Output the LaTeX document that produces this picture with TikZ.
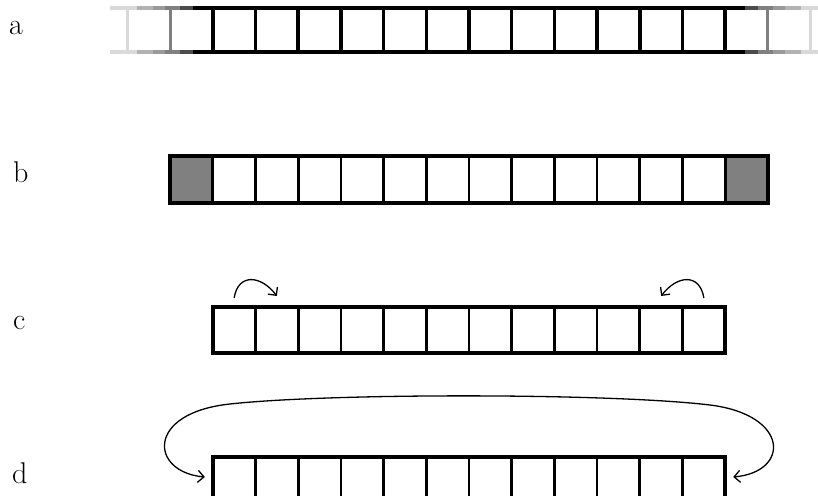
\documentclass[tikz,border=0pt]{standalone}
\usepackage{fontspec}
\usepackage{tikz}
\usetikzlibrary{arrows.meta}

\tikzset{
  cell/.style={draw, minimum width=42.7pt, minimum height=46pt, inner sep=0pt, outer sep=0pt, line width=2.7pt},
  ghost/.style={minimum width=42.7pt, minimum height=44pt, inner sep=0pt, outer sep=0pt},
  rowlabel/.style={anchor=base west, inner sep=0pt, font=\fontsize{30}{30}\selectfont},
  link/.style={line width=1.3pt, -{Straight Barb[length=6pt, width=12pt]}},
}

\begin{document}
\begin{tikzpicture}[x=1pt, y=1pt]
    \useasboundingbox (0,0) rectangle (818,495);
    \clip (0,0) rectangle (818,495);
    % row labels
    \node[rowlabel] (la) at (9,460) {a};
    \node[rowlabel] (lb) at (13,312) {b};
    \node[rowlabel] (lc) at (13,165) {c};
    \node[rowlabel] (ld) at (12,12) {d};
    % row a: the lattice fading out at both ends
    \foreach \i in {1,...,12}
        \node[cell, minimum height=44pt, line width=3.5pt] (a\i) at ({469+(\i-6.5)*42.7},465) {};
    \node[ghost] (a0) at ({469-6.5*42.7},465) {};
    \node[ghost] (a13) at ({469+6.5*42.7},465) {};
    \node[ghost] (al) at ({469-7.5*42.7},465) {};
    \node[ghost] (ar) at ({469+7.5*42.7},465) {};
    \draw[line width=4.5pt] (193,487) -- (745,487) (193,443) -- (745,443);
    \foreach \xa/\xb/\s in {110/137/15, 137/153/30, 153/165/40, 165/180/50, 180/193/70} {
        \draw[black!\s, line width=3.5pt] (\xa,487) -- (\xb,487) (\xa,443) -- (\xb,443);
        \draw[black!\s, line width=3.5pt] (938-\xa,487) -- (938-\xb,487) (938-\xa,443) -- (938-\xb,443);
    }
    \draw[black!50, line width=3pt] (a0.north west) -- (a0.south west) (a13.north east) -- (a13.south east);
    \draw[black!15, line width=2.5pt] (al.north west) -- (al.south west) (ar.north east) -- (ar.south east);
    % row b: fixed ends
    \foreach \i in {1,...,14}
        \node[cell, minimum height=47pt] (b\i) at ({469+(\i-7.5)*42.7},315.5) {};
    \fill[black!50] (b1.north west) rectangle (b1.south east);
    \fill[black!50] (b14.north west) rectangle (b14.south east);
    \foreach \i in {2,13}
        \draw[line width=2.7pt] (b\i.north west) -- (b\i.south west) (b\i.north east) -- (b\i.south east);
    \draw[line width=4.5pt] (b1.north west) rectangle (b14.south east);
    % row c: reflecting ends
    \foreach \i in {1,...,12}
        \node[cell] (c\i) at ({469+(\i-6.5)*42.7},165) {};
    \draw[line width=4.5pt] (c1.north west) rectangle (c12.south east);
    \coordinate (cl1) at ([yshift=9pt]c1.north);
    \coordinate (cl2) at ([yshift=11pt]c2.north);
    \coordinate (cr1) at ([yshift=9pt]c12.north);
    \coordinate (cr2) at ([yshift=11pt]c11.north);
    \draw[link] (cl1) .. controls +(4,25) and +(-16,21) .. (cl2);
    \draw[link] (cr1) .. controls +(-4,25) and +(16,21) .. (cr2);
    % row d: periodic ends
    \foreach \i in {1,...,12}
        \node[cell] (d\i) at ({469+(\i-6.5)*42.7},15) {};
    \draw[line width=4.5pt] (d1.north west) rectangle (d12.south east);
    \coordinate (dl) at ([xshift=-8pt, yshift=3pt]d1.west);
    \coordinate (dr) at ([xshift=8pt, yshift=3pt]d12.east);
    \draw[link, {Straight Barb[length=6pt, width=12pt]}-{Straight Barb[length=6pt, width=12pt]}]
        (dl) .. controls (150,23) and (145,82) .. (230,91)
        .. controls (330,102) and (610,102) .. (710,90)
        .. controls (790,80) and (790,23) .. (dr);
\end{tikzpicture}
\end{document}
